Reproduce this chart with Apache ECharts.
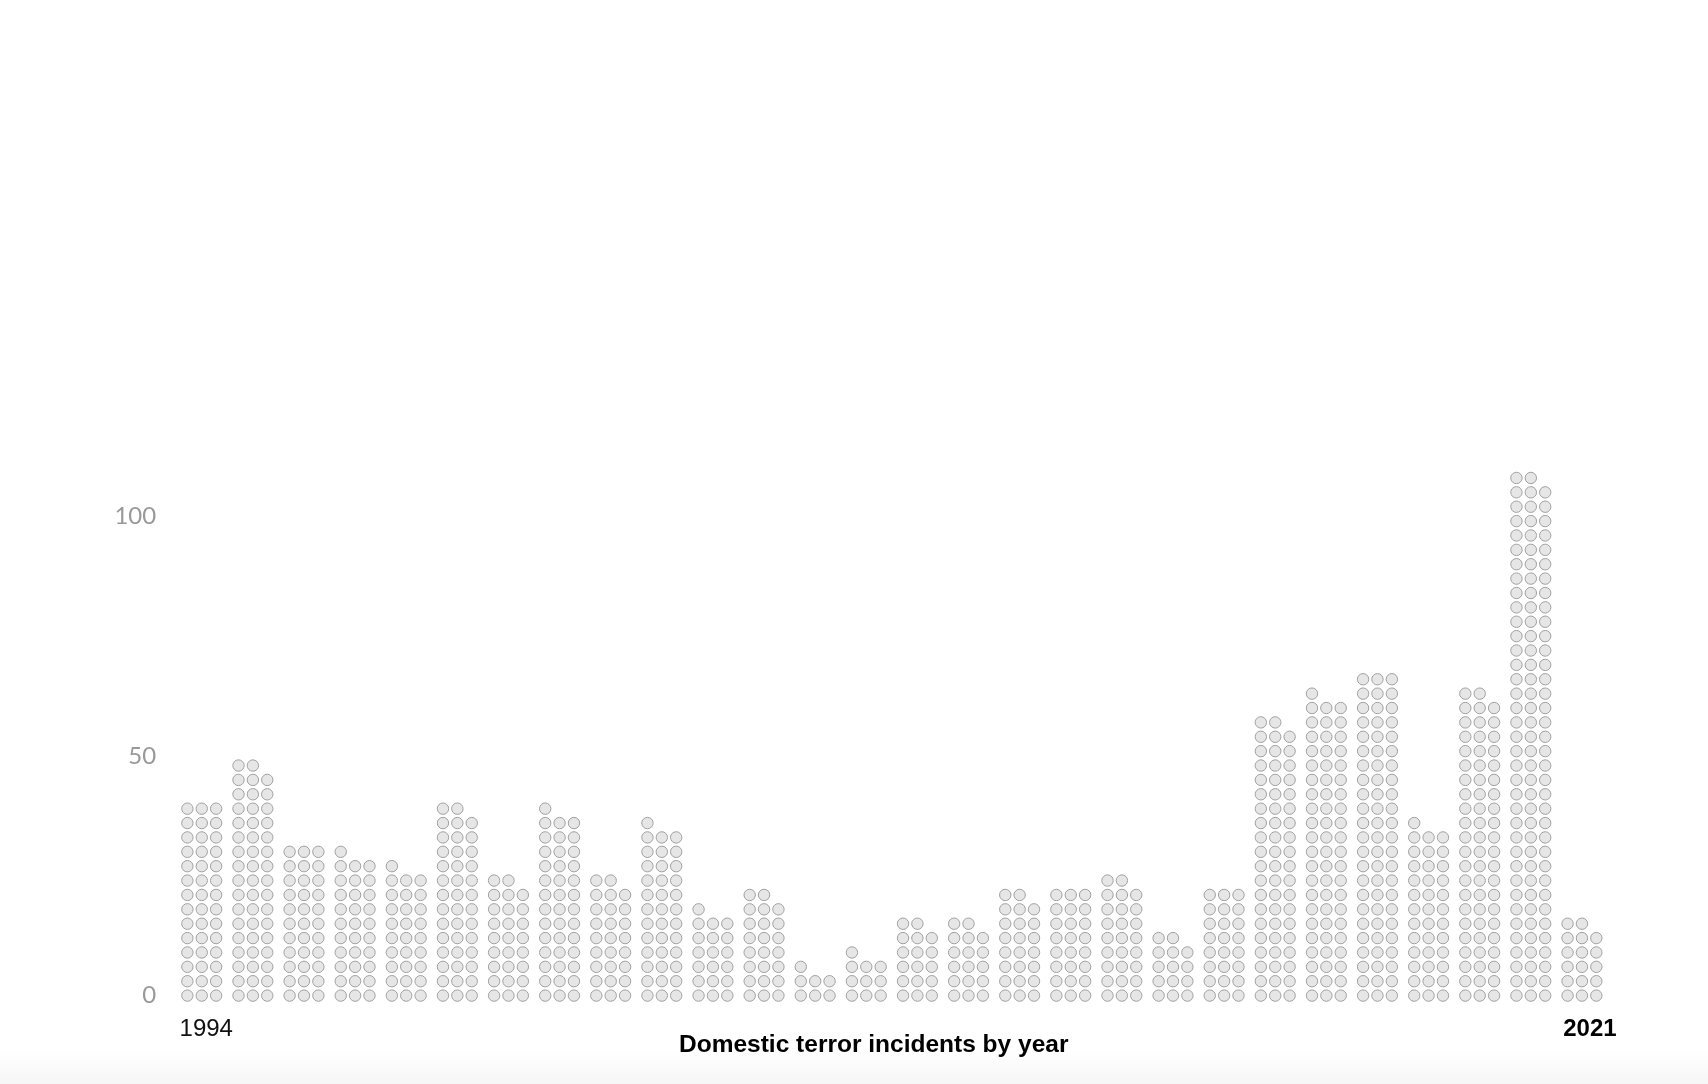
<!DOCTYPE html>
<html>
<head>
<meta charset="utf-8">
<script src="https://cdn.jsdelivr.net/npm/echarts@6/dist/echarts.min.js"></script>
<style>
  html, body { margin: 0; padding: 0; background: #fff; }
  #chart { width: 1708px; height: 1084px; }
</style>
</head>
<body>
<div id="chart"></div>
<script>
// ---- data ----
var years = ['1994','1995','1996','1997','1998','1999','2000','2001','2002','2003',
             '2004','2005','2006','2007','2008','2009','2010','2011','2012','2013',
             '2014','2015','2016','2017','2018','2019','2020','2021'];
var incidents = [42, 50, 33, 31, 28, 41, 26, 40, 26, 37,
                 19, 23, 7, 10, 17, 17, 23, 24, 26, 14,
                 24, 59, 64, 69, 37, 65, 110, 17];
var yTicks = [0, 50, 100];
var chartTitle = 'Domestic terror incidents by year';

var chart = echarts.init(document.getElementById('chart'));
var seriesData = incidents.map(function (v, i) { return [i, v]; });

chart.setOption({
  backgroundColor: 'transparent',
  animation: false,
  graphic: [{
    type: 'rect', z: -10, silent: true,
    shape: { x: 0, y: 1046, width: 1708, height: 38 },
    style: {
      fill: new echarts.graphic.LinearGradient(0, 0, 0, 1, [
        { offset: 0, color: 'rgba(248,248,248,0)' },
        { offset: 1, color: 'rgba(246,246,246,1)' }
      ])
    }
  }],
  title: {
    text: chartTitle,
    left: 679,
    top: 1033,
    padding: 0,
    textStyle: {
      fontFamily: 'Liberation Sans, Arial, sans-serif',
      fontWeight: 'bold',
      fontSize: 24.5,
      color: '#000'
    }
  },
  grid: { left: 176.2, right: 100.5, top: 516.3, bottom: 88.4 },
  xAxis: {
    type: 'category',
    data: years,
    boundaryGap: true,
    axisLine: { show: false },
    axisTick: { show: false },
    splitLine: { show: false },
    axisLabel: {
      interval: 0,
      margin: 22,
      formatter: function (v, i) {
        if (i === 0) return '{first|' + v + '}';
        if (i === years.length - 1) return '{last|' + v + '}';
        return '';
      },
      rich: {
        first: {
          fontFamily: 'Liberation Sans, Arial, sans-serif',
          fontSize: 24, color: '#111', padding: [0, 0, 0, 9]
        },
        last: {
          fontFamily: 'Liberation Sans, Arial, sans-serif',
          fontSize: 24, fontWeight: 'bold', color: '#000', padding: [0, 0, 0, 16]
        }
      }
    }
  },
  yAxis: {
    type: 'value',
    min: yTicks[0],
    max: yTicks[yTicks.length - 1],
    interval: yTicks[1] - yTicks[0],
    axisLine: { show: false },
    axisTick: { show: false },
    splitLine: { show: false },
    axisLabel: {
      margin: 20,
      color: '#999999',
      fontFamily: 'Lato, sans-serif',
      fontWeight: 'normal',
      fontSize: 24
    }
  },
  series: [{
    type: 'custom',
    clip: false,
    data: seriesData,
    encode: { x: 0, y: 1 },
    renderItem: function (params, api) {
      var idx = api.value(0);
      var n = api.value(1);
      var p0 = api.coord([idx, 0]);
      var step = p0[1] - api.coord([idx, 3])[1];
      var children = [];
      for (var k = 0; k < n; k++) {
        var row = Math.floor(k / 3);
        var col = k % 3;
        var p = api.coord([idx, row * 3]);
        children.push({
          type: 'circle',
          shape: { cx: p[0] + (col - 1) * step, cy: p[1], r: 5.7 },
          style: { fill: '#e6e6e6', stroke: '#a0a0a0', lineWidth: 1 }
        });
      }
      return { type: 'group', children: children };
    }
  }]
});
</script>
</body>
</html>
